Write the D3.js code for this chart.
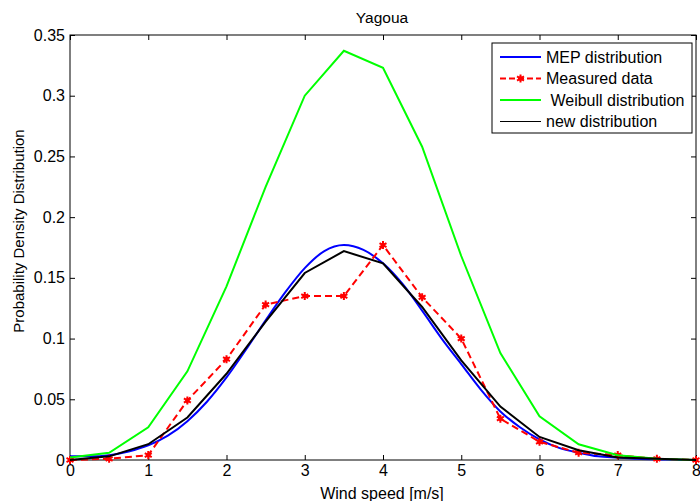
<!DOCTYPE html>
<html>
<head>
<meta charset="utf-8">
<script src="https://cdn.jsdelivr.net/npm/d3@7"></script>
<style>
  body { margin: 0; background: #fff; }
  text { font-family: Arial, "Liberation Sans", sans-serif; }
</style>
</head>
<body>
<div id="chart"></div>
<script>
const width = 700;
const height = 501;
const marginTop = 35;
const marginRight = 4;
const marginBottom = 41;
const marginLeft = 70;

// wind speed bins [m/s]
const speeds = [0, 0.5, 1, 1.5, 2, 2.5, 3, 3.5, 4, 4.5, 5, 5.5, 6, 6.5, 7, 7.5, 8];
const measured = [0.000, 0.001, 0.004, 0.049, 0.083, 0.128, 0.135, 0.135, 0.177, 0.134, 0.100, 0.034, 0.015, 0.006, 0.004, 0.001, 0.000];
const weibull = [0.002, 0.006, 0.027, 0.073, 0.143, 0.225, 0.300, 0.337, 0.323, 0.258, 0.168, 0.088, 0.036, 0.013, 0.004, 0.001, 0.000];
const newDist = [0.000, 0.003, 0.013, 0.035, 0.071, 0.114, 0.154, 0.172, 0.162, 0.126, 0.082, 0.044, 0.019, 0.008, 0.002, 0.001, 0.000];

// MEP curve sampled finer
const mepSpeeds = [0, 0.25, 0.5, 0.75, 1, 1.25, 1.5, 1.75, 2, 2.25, 2.5, 2.75, 3, 3.25, 3.5, 3.75, 4, 4.25, 4.5, 4.75, 5, 5.25, 5.5, 5.75, 6, 6.25, 6.5, 6.75, 7, 7.25, 7.5, 7.75, 8];
const mep = [0.003, 0.003, 0.004, 0.007, 0.012, 0.020, 0.032, 0.048, 0.068, 0.091, 0.115, 0.138, 0.158, 0.172, 0.177, 0.173, 0.162, 0.145, 0.123, 0.100, 0.079, 0.058, 0.040, 0.027, 0.017, 0.010, 0.006, 0.003, 0.002, 0.001, 0.0005, 0.0003, 0.000];

const xTicks = [0, 1, 2, 3, 4, 5, 6, 7, 8];
const yTicks = [0, 0.05, 0.1, 0.15, 0.2, 0.25, 0.3, 0.35];
const legendLabels = ["MEP distribution", "Measured data", " Weibull distribution", "new distribution"];
const legendColors = ["#0000ff", "#ff0000", "#00ff00", "#000000"];

const svg = d3.select("#chart")
    .append("svg")
    .attr("width", width)
    .attr("height", height);

const x = d3.scaleLinear().domain([0, 8]).range([marginLeft, width - marginRight]);
const y = d3.scaleLinear().domain([0, 0.35]).range([height - marginBottom, marginTop]);

const plotW = width - marginRight - marginLeft;
const plotH = height - marginBottom - marginTop;

// box
svg.append("rect")
    .attr("x", marginLeft)
    .attr("y", marginTop)
    .attr("width", plotW)
    .attr("height", plotH)
    .attr("fill", "none")
    .attr("stroke", "#000")
    .attr("stroke-width", 1);

// axes with inward ticks
const xAxis = svg.append("g")
    .attr("transform", `translate(0,${height - marginBottom})`)
    .call(d3.axisBottom(x).tickValues(xTicks).tickSize(-5).tickPadding(5).tickFormat(d3.format("d")));
const xAxisTop = svg.append("g")
    .attr("transform", `translate(0,${marginTop})`)
    .call(d3.axisTop(x).tickValues(xTicks).tickSize(-5).tickFormat(""));
const yAxis = svg.append("g")
    .attr("transform", `translate(${marginLeft},0)`)
    .call(d3.axisLeft(y).tickValues(yTicks).tickSize(-5).tickPadding(5).tickFormat(d => d === 0 ? "0" : String(+d.toFixed(2))));
const yAxisRight = svg.append("g")
    .attr("transform", `translate(${width - marginRight},0)`)
    .call(d3.axisRight(y).tickValues(yTicks).tickSize(-5).tickFormat(""));

[xAxis, xAxisTop, yAxis, yAxisRight].forEach(g => {
    g.select(".domain").remove();
    g.selectAll("line").attr("stroke", "#000");
    g.selectAll("text").style("font-size", "16px").attr("fill", "#000")
        .style("font-family", "Arial, 'Liberation Sans', sans-serif");
});

const line = d3.line().x(d => x(d[0])).y(d => y(d[1]));

// MEP
svg.append("path")
    .attr("d", line.curve(d3.curveMonotoneX)(mepSpeeds.map((s, i) => [s, mep[i]])))
    .attr("fill", "none")
    .attr("stroke", legendColors[0])
    .attr("stroke-width", 2);
line.curve(d3.curveLinear);

// measured
const measPts = speeds.map((s, i) => [s, measured[i]]);
svg.append("path")
    .attr("d", line(measPts))
    .attr("fill", "none")
    .attr("stroke", legendColors[1])
    .attr("stroke-width", 2)
    .attr("stroke-dasharray", "7,4");

const star = d3.symbol(d3.symbolAsterisk, 45);
function drawStar(g, cx, cy) {
    g.append("path")
        .attr("d", star())
        .attr("transform", `translate(${cx},${cy})`)
        .attr("fill", "none")
        .attr("stroke", "#ff0000")
        .attr("stroke-width", 2);
    g.append("circle")
        .attr("cx", cx).attr("cy", cy).attr("r", 2.2)
        .attr("fill", "#ff0000");
}
const markers = svg.append("g");
measPts.forEach(p => drawStar(markers, x(p[0]), y(p[1])));

// Weibull
svg.append("path")
    .attr("d", line(speeds.map((s, i) => [s, weibull[i]])))
    .attr("fill", "none")
    .attr("stroke", legendColors[2])
    .attr("stroke-width", 2);

// new distribution
svg.append("path")
    .attr("d", line(speeds.map((s, i) => [s, newDist[i]])))
    .attr("fill", "none")
    .attr("stroke", legendColors[3])
    .attr("stroke-width", 2);

// title and labels
svg.append("text")
    .attr("x", 382)
    .attr("y", 23)
    .attr("text-anchor", "middle")
    .style("font-size", "15.5px")
    .text("Yagoua");

svg.append("text")
    .attr("x", 382)
    .attr("y", 499)
    .attr("text-anchor", "middle")
    .style("font-size", "16px")
    .text("Wind speed [m/s]");

svg.append("text")
    .attr("transform", "translate(24,231) rotate(-90)")
    .attr("text-anchor", "middle")
    .style("font-size", "15px")
    .text("Probability Density Distribution");

// legend
const legend = svg.append("g").attr("transform", "translate(492,43)");
legend.append("rect")
    .attr("width", 200)
    .attr("height", 90)
    .attr("fill", "#fff")
    .attr("stroke", "#000")
    .attr("stroke-width", 1);

legendLabels.forEach((lab, i) => {
    const ly = 14 + i * 21.5;
    const ln = legend.append("line")
        .attr("x1", 8).attr("x2", 49)
        .attr("y1", ly).attr("y2", ly)
        .attr("stroke", legendColors[i])
        .attr("stroke-width", i === 3 ? 1.2 : 2);
    if (i === 1) {
        ln.attr("stroke-dasharray", "6,3");
        drawStar(legend, 28.5, ly);
    }
    legend.append("text")
        .attr("x", 54)
        .attr("y", ly + 5.5)
        .style("font-size", "16px")
        .style("white-space", "pre")
        .attr("xml:space", "preserve")
        .text(lab);
});
</script>
</body>
</html>
